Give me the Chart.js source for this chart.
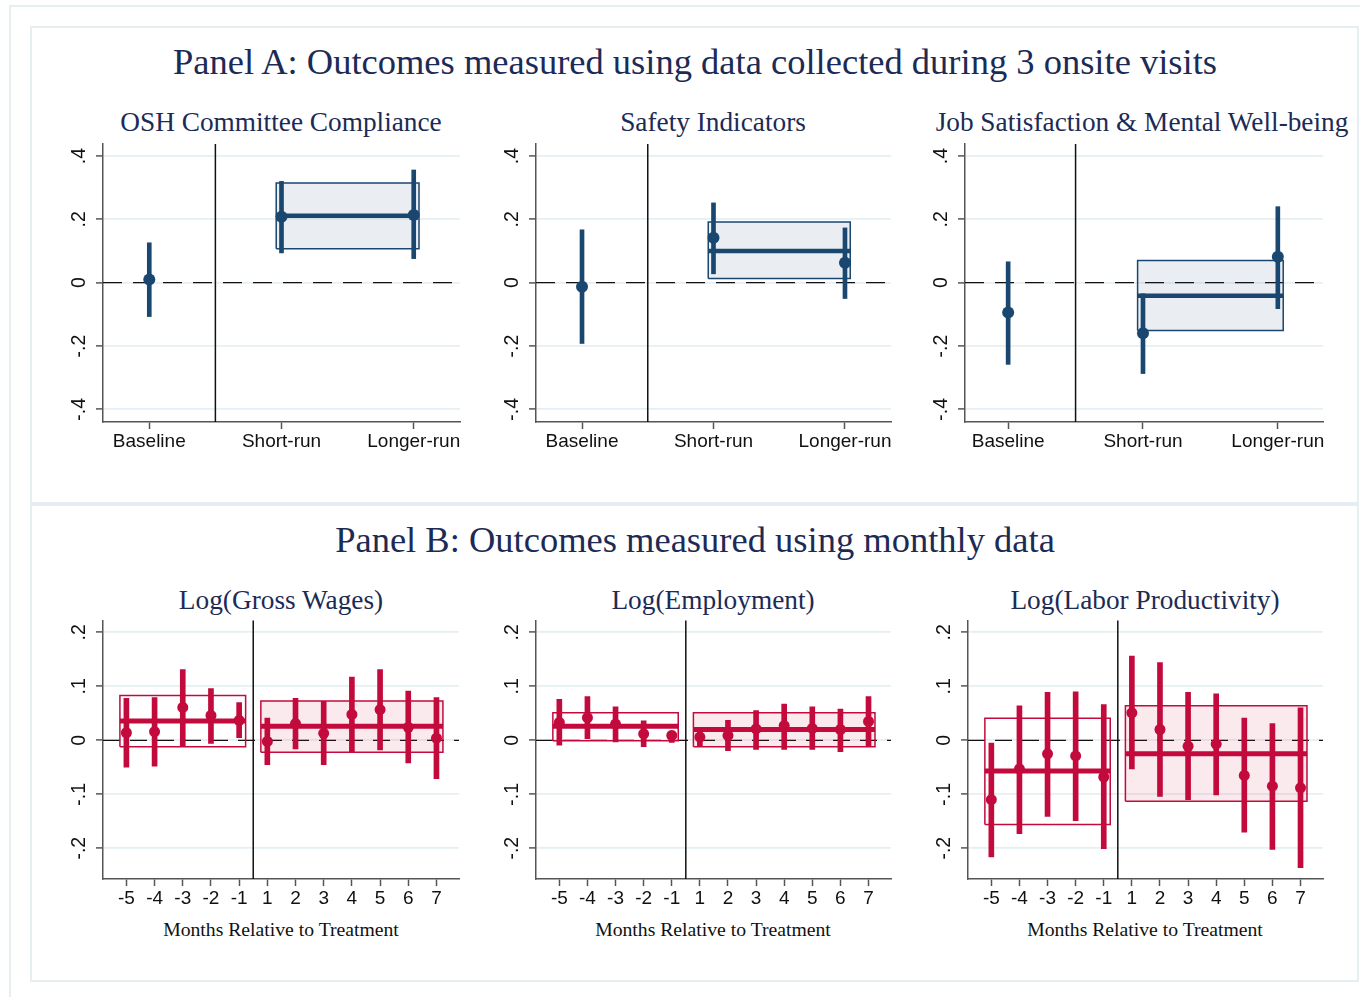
<!DOCTYPE html>
<html>
<head>
<meta charset="utf-8">
<script src="https://cdn.jsdelivr.net/npm/chart.js@4.4.1/dist/chart.umd.min.js"></script>
<style>
  body { margin: 0; width: 1360px; height: 997px; position: relative; overflow: hidden; background: #fff; }
  .frame { position: absolute; border: 2px solid #e6eef1; box-sizing: border-box; }
  .t { position: absolute; transform: translate(-50%, -50%); white-space: nowrap; line-height: 1;
       font-family: 'Liberation Serif', 'Times New Roman', serif; color: #1c2b55; }
  .main { font-size: 36.5px; }
  .sub { font-size: 27.3px; }
  .xt { font-size: 19.7px; color: #111; }
  canvas { position: absolute; }
</style>
</head>
<body>
<div class="frame" style="left:9px;top:5px;width:1400px;height:1100px;"></div>
<div class="frame" style="left:30px;top:26px;width:1329px;height:478px;"></div>
<div class="frame" style="left:30px;top:504px;width:1329px;height:478px;"></div>

<div class="t main" style="left:695px;top:62px;">Panel A: Outcomes measured using data collected during 3 onsite visits</div>
<div class="t sub" style="left:281px;top:123px;">OSH Committee Compliance</div>
<div class="t sub" style="left:713px;top:123px;">Safety Indicators</div>
<div class="t sub" style="left:1142px;top:123px;">Job Satisfaction &amp; Mental Well-being</div>

<div class="t main" style="left:695px;top:540px;">Panel B: Outcomes measured using monthly data</div>
<div class="t sub" style="left:281px;top:601px;">Log(Gross Wages)</div>
<div class="t sub" style="left:713px;top:601px;">Log(Employment)</div>
<div class="t sub" style="left:1145px;top:601px;">Log(Labor Productivity)</div>
<div class="t xt" style="left:281px;top:930px;">Months Relative to Treatment</div>
<div class="t xt" style="left:713px;top:930px;">Months Relative to Treatment</div>
<div class="t xt" style="left:1145px;top:930px;">Months Relative to Treatment</div>

<canvas id="a1" width="419" height="324" style="left:53px;top:138px"></canvas>
<canvas id="a2" width="417" height="324" style="left:486px;top:138px"></canvas>
<canvas id="a3" width="420" height="324" style="left:915px;top:138px"></canvas>
<canvas id="b1" width="418" height="304" style="left:53px;top:615px"></canvas>
<canvas id="b2" width="417" height="304" style="left:486px;top:615px"></canvas>
<canvas id="b3" width="417" height="304" style="left:918px;top:615px"></canvas>

<script>
// ---- Panel A: onsite visits ----
var visitLabels = ['Baseline', 'Short-run', 'Longer-run'];
var visitX = [0, 1, 2];
var visitTicksY = [-0.4, -0.2, 0, 0.2, 0.4];

var oshCoef = [0.010, 0.208, 0.214];
var oshLo   = [-0.107, 0.094, 0.076];
var oshHi   = [0.126, 0.320, 0.356];
var oshPost = [0.211, 0.107, 0.315];   // mean, lo, hi

var safetyCoef = [-0.013, 0.142, 0.063];
var safetyLo   = [-0.192, 0.028, -0.050];
var safetyHi   = [0.167, 0.252, 0.173];
var safetyPost = [0.100, 0.013, 0.192];

var jobCoef = [-0.094, -0.160, 0.082];
var jobLo   = [-0.258, -0.287, -0.082];
var jobHi   = [0.066, -0.035, 0.240];
var jobPost = [-0.041, -0.151, 0.070];

// ---- Panel B: monthly data ----
var monthLabels = ['-5', '-4', '-3', '-2', '-1', '1', '2', '3', '4', '5', '6', '7'];
var monthX = [0, 1, 2, 3, 4, 5, 6, 7, 8, 9, 10, 11];
var monthTicksY = [-0.2, -0.1, 0, 0.1, 0.2];

var wageCoef = [0.014, 0.016, 0.061, 0.046, 0.037, -0.002, 0.031, 0.013, 0.048, 0.057, 0.024, 0.004];
var wageLo   = [-0.050, -0.048, -0.011, -0.006, 0.005, -0.045, -0.016, -0.045, -0.021, -0.018, -0.042, -0.071];
var wageHi   = [0.078, 0.079, 0.131, 0.096, 0.070, 0.041, 0.078, 0.072, 0.117, 0.131, 0.091, 0.079];
var wagePre  = [0.036, -0.012, 0.083];
var wagePost = [0.026, -0.022, 0.073];

var empCoef = [0.033, 0.042, 0.030, 0.012, 0.009, 0.006, 0.009, 0.021, 0.027, 0.022, 0.020, 0.035];
var empLo   = [-0.009, 0.003, -0.003, -0.012, -0.004, -0.012, -0.019, -0.017, -0.017, -0.017, -0.021, -0.011];
var empHi   = [0.076, 0.081, 0.062, 0.036, 0.017, 0.019, 0.037, 0.055, 0.067, 0.062, 0.058, 0.081];
var empPre  = [0.026, -0.001, 0.051];
var empPost = [0.020, -0.012, 0.051];

var prodCoef = [-0.110, -0.053, -0.025, -0.029, -0.068, 0.051, 0.020, -0.011, -0.007, -0.065, -0.085, -0.088];
var prodLo   = [-0.216, -0.173, -0.141, -0.149, -0.201, -0.053, -0.104, -0.110, -0.101, -0.170, -0.202, -0.236];
var prodHi   = [-0.005, 0.064, 0.089, 0.090, 0.066, 0.156, 0.144, 0.089, 0.086, 0.041, 0.031, 0.060];
var prodPre  = [-0.057, -0.156, 0.041];
var prodPost = [-0.025, -0.113, 0.064];

var NAVY = '#1a476f';
var RED = '#c30a3c';
var SANS = "'Liberation Sans', Arial, sans-serif";

function stataNum(v) {
    if (Math.abs(v) < 1e-9) return '0';
    return String(+v.toFixed(2)).replace('0.', '.');
}

// dashed zero line + vertical treatment separator
var refLines = {
    id: 'refLines',
    beforeDatasetsDraw: function(chart, args, opts) {
        var ctx = chart.ctx, a = chart.chartArea;
        var y0 = chart.scales.y.getPixelForValue(0);
        var xs = chart.scales.x.getPixelForValue(opts.sep);
        ctx.save();
        ctx.strokeStyle = '#111';
        ctx.lineWidth = 1.2;
        ctx.setLineDash(opts.dash);
        ctx.beginPath(); ctx.moveTo(a.left, y0); ctx.lineTo(a.right, y0); ctx.stroke();
        ctx.setLineDash([]);
        ctx.strokeStyle = '#111';
        ctx.lineWidth = 1.5;
        ctx.beginPath(); ctx.moveTo(xs, a.top); ctx.lineTo(xs, a.bottom); ctx.stroke();
        ctx.restore();
    }
};

function boxSets(x0, x1, b, color, fill, meanW) {
    return [{
        type: 'line', showLine: true, order: 4,
        data: [{x: x0, y: b[1]}, {x: x0, y: b[2]}, {x: x1, y: b[2]}, {x: x1, y: b[1]}, {x: x0, y: b[1]}],
        fill: 'shape', backgroundColor: fill, borderColor: color, borderWidth: 1.5,
        pointRadius: 0, tension: 0
    }, {
        type: 'line', showLine: true, order: 3,
        data: [{x: x0, y: b[0]}, {x: x1, y: b[0]}],
        borderColor: color, borderWidth: meanW, pointRadius: 0, borderCapStyle: 'butt'
    }];
}

function drawPanel(id, o) {
    var ds = [];
    o.boxes.forEach(function(bx) {
        ds = ds.concat(boxSets(bx.x0, bx.x1, bx.v, o.color, bx.fill, o.meanW));
    });
    ds.push({
        type: 'bar', order: 2,
        data: o.x.map(function(x, i) { return {x: x, y: [o.lo[i], o.hi[i]]}; }),
        backgroundColor: o.color, barThickness: o.barW, borderWidth: 0
    });
    ds.push({
        type: 'scatter', order: 1,
        data: o.x.map(function(x, i) { return {x: x, y: o.coef[i]}; }),
        backgroundColor: o.color, pointRadius: o.r, borderWidth: 0
    });

    new Chart(document.getElementById(id), {
        type: 'scatter',
        data: { datasets: ds },
        plugins: [refLines],
        options: {
            responsive: false,
            animation: false,
            events: [],
            layout: { padding: { top: 5, right: o.padR, left: 0, bottom: 0 } },
            plugins: {
                legend: { display: false },
                tooltip: { enabled: false },
                refLines: { sep: o.sep, dash: o.dash }
            },
            scales: {
                x: {
                    type: 'linear', min: o.xmin, max: o.xmax, offset: false,
                    afterBuildTicks: function(s) { s.ticks = o.x.map(function(v) { return {value: v}; }); },
                    afterFit: function(s) { s.height = 40; s.paddingLeft = 0; s.paddingRight = 0; },
                    ticks: {
                        autoSkip: false, maxRotation: 0, padding: 1, color: '#111',
                        font: { family: SANS, size: 19 },
                        callback: function(v, i) { return o.labels[i]; }
                    },
                    grid: { offset: false, drawOnChartArea: false, tickLength: 7, tickColor: '#555', tickWidth: 1.5 },
                    border: { color: '#555', width: 1.5 }
                },
                y: {
                    min: o.ymin, max: o.ymax,
                    afterBuildTicks: function(s) { s.ticks = o.yt.map(function(v) { return {value: v}; }); },
                    afterFit: function(s) { s.width = 50; s.paddingTop = 0; s.paddingBottom = 0; },
                    ticks: {
                        minRotation: 90, maxRotation: 90, crossAlign: 'center', padding: 5, color: '#111',
                        font: { family: SANS, size: 19.5 },
                        callback: function(v) { return stataNum(v); }
                    },
                    grid: { color: '#e6eff3', lineWidth: 1.8, tickLength: 7, tickColor: '#555', tickWidth: 1.5 },
                    border: { color: '#555', width: 1.5 }
                }
            }
        }
    });
}

var FILL_A = 'rgba(26,71,111,0.09)';
var FILL_B = 'rgba(195,10,60,0.09)';

function visitPanel(id, coef, lo, hi, post, xmin, xmax) {
    drawPanel(id, {
        x: visitX, labels: visitLabels, coef: coef, lo: lo, hi: hi,
        boxes: [{x0: visitX[1] - 0.04, x1: visitX[2] + 0.04, v: post, fill: FILL_A}],
        color: NAVY, barW: 4, r: 6, meanW: 4.5,
        xmin: xmin, xmax: xmax, ymin: -0.44, ymax: 0.438, yt: visitTicksY,
        sep: 0.5, dash: [19, 11], padR: 12
    });
}

function monthPanel(id, coef, lo, hi, pre, post) {
    drawPanel(id, {
        x: monthX, labels: monthLabels, coef: coef, lo: lo, hi: hi,
        boxes: [
            {x0: monthX[0] - 0.23, x1: monthX[4] + 0.23, v: pre, fill: 'rgba(255,255,255,0)'},
            {x0: monthX[5] - 0.23, x1: monthX[11] + 0.23, v: post, fill: FILL_B}
        ],
        color: RED, barW: 5, r: 5.5, meanW: 5,
        xmin: -0.83, xmax: 11.8, ymin: -0.257, ymax: 0.222, yt: monthTicksY,
        sep: 4.5, dash: [17, 10], padR: 12
    });
}

visitPanel('a1', oshCoef, oshLo, oshHi, oshPost, -0.35, 2.35);
visitPanel('a2', safetyCoef, safetyLo, safetyHi, safetyPost, -0.35, 2.35);
visitPanel('a3', jobCoef, jobLo, jobHi, jobPost, -0.32, 2.335);
monthPanel('b1', wageCoef, wageLo, wageHi, wagePre, wagePost);
monthPanel('b2', empCoef, empLo, empHi, empPre, empPost);
monthPanel('b3', prodCoef, prodLo, prodHi, prodPre, prodPost);
</script>
</body>
</html>
